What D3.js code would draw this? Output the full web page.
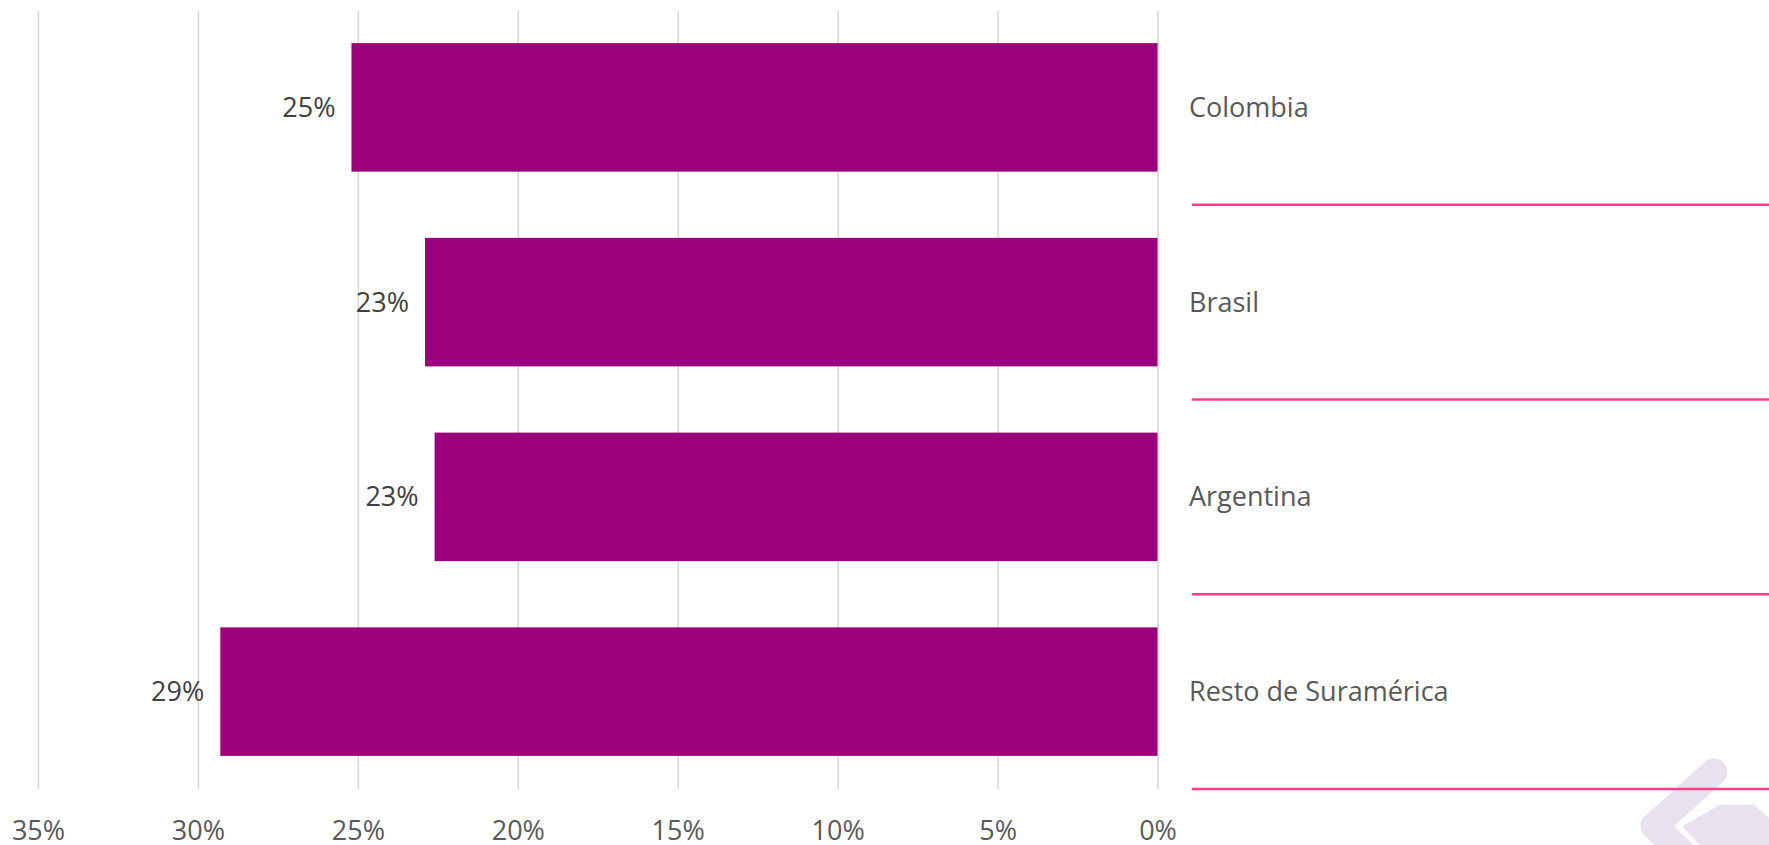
<!DOCTYPE html>
<html>
<head>
<meta charset="utf-8">
<script src="https://cdn.jsdelivr.net/npm/d3@7.9.0/dist/d3.min.js"></script>
<style>
  html, body { margin: 0; padding: 0; background: #fff; }
  svg { display: block; font-family: "Open Sans", sans-serif; }
</style>
</head>
<body>
<div id="chart"></div>
<script>
// Chart data (share by region)
const categories = ['Colombia', 'Brasil', 'Argentina', 'Resto de Suramérica'];
const shares = [0.252, 0.229, 0.226, 0.293];
const xTicks = [0, 0.05, 0.10, 0.15, 0.20, 0.25, 0.30, 0.35];

const width = 1769;
const height = 845;
const plot = { top: 10, bottom: 789, left: 38, right: 1157.5 };

const data = categories.map((name, i) => ({ name, value: shares[i] }));

const svg = d3.select('#chart')
  .append('svg')
  .attr('width', width)
  .attr('height', height)
  .attr('viewBox', `0 0 ${width} ${height}`);

// reversed axis: 0% on the right, 35% on the left
const xScale = d3.scaleLinear()
  .domain([0, 0.35])
  .range([plot.right, plot.left]);

const yScale = d3.scaleBand()
  .domain(categories)
  .range([plot.top, plot.bottom])
  .paddingInner(0.34)
  .paddingOuter(0.17);

// watermark logo, bottom right (behind everything)
const logo = svg.append('g').attr('class', 'watermark').attr('fill', '#e9e1ef').attr('stroke', '#e9e1ef');
logo.append('path')
  .attr('d', 'M1714,772 L1654,826 L1696,866')
  .attr('fill', 'none')
  .attr('stroke-width', 27)
  .attr('stroke-linejoin', 'round')
  .attr('stroke-linecap', 'round');
logo.append('path')
  .attr('d', 'M1686,827 L1721,807 L1753,807 L1772,824 L1772,850 L1708,850 Z')
  .attr('stroke-width', 5)
  .attr('stroke-linejoin', 'round');

// gridlines + axis labels
const xAxis = d3.axisBottom(xScale)
  .tickValues(xTicks)
  .tickFormat(d3.format('.0%'))
  .tickSizeInner(-(plot.bottom - plot.top - 1))
  .tickSizeOuter(0)
  .tickPadding(32);

const gx = svg.append('g')
  .attr('transform', `translate(0, ${plot.bottom})`)
  .call(xAxis);
gx.select('.domain').remove();
gx.selectAll('line').attr('stroke', '#d9d9d9').attr('stroke-width', 1.6);
gx.selectAll('text')
  .attr('fill', '#595959')
  .style('font-size', '27px')
  .style('font-family', '"Open Sans", sans-serif');

// pink separators on the right, one under each category
svg.append('g')
  .attr('class', 'separators')
  .selectAll('line')
  .data(categories)
  .join('line')
  .attr('x1', 1192)
  .attr('x2', width)
  .attr('y1', d => yScale(d) + yScale.bandwidth() + yScale.step() * yScale.paddingInner() / 2)
  .attr('y2', d => yScale(d) + yScale.bandwidth() + yScale.step() * yScale.paddingInner() / 2)
  .attr('stroke', '#ff3d8b')
  .attr('stroke-width', 2.5);

// bars
svg.append('g')
  .attr('class', 'bars')
  .selectAll('rect')
  .data(data)
  .join('rect')
  .attr('x', d => xScale(d.value))
  .attr('y', d => yScale(d.name))
  .attr('width', d => xScale(0) - xScale(d.value))
  .attr('height', yScale.bandwidth())
  .attr('fill', '#9b007d');

// value labels
svg.append('g')
  .attr('class', 'values')
  .selectAll('text')
  .data(data)
  .join('text')
  .attr('x', d => xScale(d.value) - 16)
  .attr('y', d => yScale(d.name) + yScale.bandwidth() / 2)
  .attr('dy', '0.35em')
  .attr('text-anchor', 'end')
  .attr('fill', '#404040')
  .style('font-size', '27px')
  .text(d => d3.format('.0%')(d.value));

// category labels on the right
svg.append('g')
  .attr('class', 'categories')
  .selectAll('text')
  .data(categories)
  .join('text')
  .attr('x', 1189)
  .attr('y', d => yScale(d) + yScale.bandwidth() / 2)
  .attr('dy', '0.35em')
  .attr('fill', '#595959')
  .style('font-size', '27px')
  .text(d => d);
</script>
</body>
</html>
